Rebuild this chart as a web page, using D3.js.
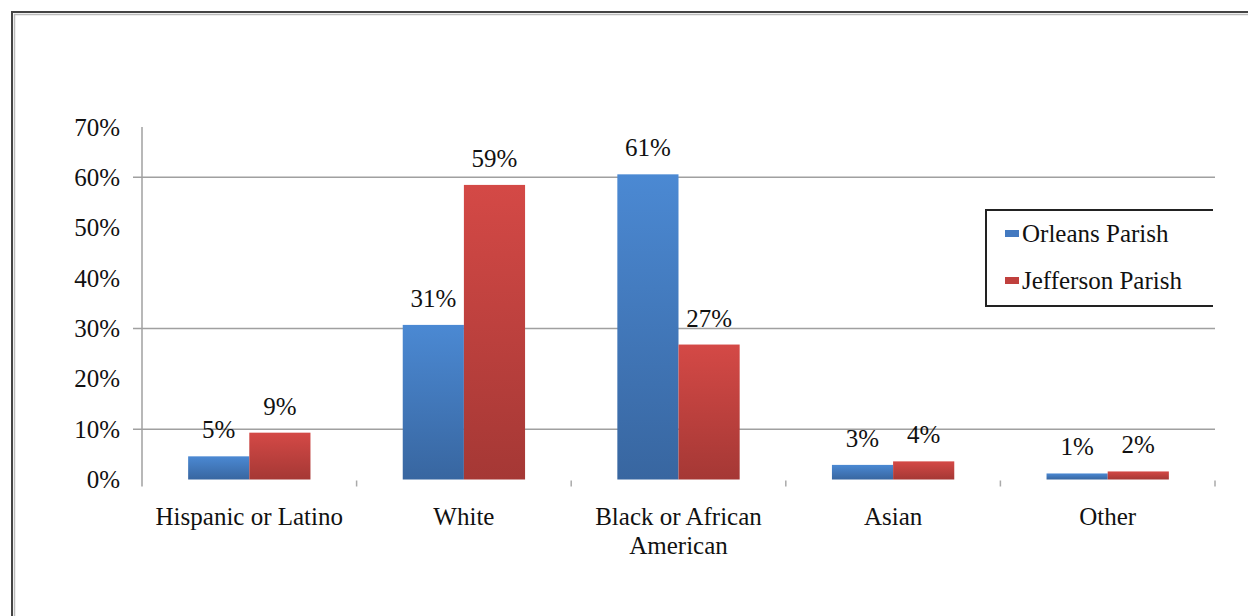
<!DOCTYPE html>
<html>
<head>
<meta charset="utf-8">
<script src="https://cdn.jsdelivr.net/npm/d3@7"></script>
<style>
  body { margin: 0; background: #fff; }
</style>
</head>
<body>
<div id="chart"></div>
<script>
// data
var categories = ["Hispanic or Latino", "White", "Black or African|American", "Asian", "Other"];
var seriesNames = ["Orleans Parish", "Jefferson Parish"];
var orleans = [4.6, 30.7, 60.6, 2.9, 1.2];
var jefferson = [9.3, 58.5, 26.8, 3.6, 1.6];
var orleansLabels = ["5%", "31%", "61%", "3%", "1%"];
var jeffersonLabels = ["9%", "59%", "27%", "4%", "2%"];
var yTicks = [0, 10, 20, 30, 40, 50, 60, 70];
var gridTicks = [10, 30, 60];

var w = 1248, h = 616;
var serif = "'Liberation Serif', 'Times New Roman', serif";

var svg = d3.select("#chart")
    .append("svg")
    .attr("width", w)
    .attr("height", h)
    .attr("font-family", serif)
    .style("font-family", serif);

var defs = svg.append("defs");
function grad(id, top, bottom){
    var g = defs.append("linearGradient")
        .attr("id", id)
        .attr("x1", 0).attr("y1", 0).attr("x2", 0).attr("y2", 1);
    g.append("stop").attr("offset", "0%").attr("stop-color", top);
    g.append("stop").attr("offset", "100%").attr("stop-color", bottom);
}
grad("gBlue", "#4b89d3", "#3866a0");
grad("gRed", "#d44946", "#a53835");
var fills = ["url(#gBlue)", "url(#gRed)"];
var swatch = ["#4379c0", "#c0403d"];

// outer frame
svg.append("rect")
    .attr("x", 12).attr("y", 12)
    .attr("width", 1300).attr("height", 700)
    .attr("fill", "none")
    .attr("stroke", "#444")
    .attr("stroke-width", 2);
svg.append("rect")
    .attr("x", 14.5).attr("y", 14.5)
    .attr("width", 1300).attr("height", 700)
    .attr("fill", "none")
    .attr("stroke", "#bbb")
    .attr("stroke-width", 1.5);

var x0 = 142, x1 = 1215;

var xScale = d3.scaleBand()
    .domain(categories)
    .range([x0, x1])
    .paddingInner(0.43)
    .paddingOuter(0.215);

var xSub = d3.scaleBand()
    .domain(seriesNames)
    .range([0, xScale.bandwidth()]);

var yScale = d3.scaleLinear()
    .domain([0, 70])
    .range([479.5, 127]);

// gridlines
svg.selectAll("grid")
    .data(gridTicks)
    .enter()
    .append("line")
    .attr("x1", x0 - 9)
    .attr("x2", x1)
    .attr("y1", function(d){ return yScale(d); })
    .attr("y2", function(d){ return yScale(d); })
    .attr("stroke", "#a0a0a0")
    .attr("stroke-width", 1.5);

// y axis line
svg.append("line")
    .attr("x1", x0).attr("x2", x0)
    .attr("y1", yScale(70)).attr("y2", yScale(0) + 7)
    .attr("stroke", "#a0a0a0")
    .attr("stroke-width", 1.5);

// category ticks (right edge of each band step)
var step = xScale.step();
svg.selectAll("xtick")
    .data(categories)
    .enter()
    .append("line")
    .attr("x1", function(d){ return xScale(d) - step * xScale.paddingOuter() + step; })
    .attr("x2", function(d){ return xScale(d) - step * xScale.paddingOuter() + step; })
    .attr("y1", yScale(0) + 1)
    .attr("y2", yScale(0) + 7)
    .attr("stroke", "#aaa")
    .attr("stroke-width", 1.5);

// y tick labels
svg.selectAll("ylab")
    .data(yTicks)
    .enter()
    .append("text")
    .attr("x", 120)
    .attr("y", function(d){ return yScale(d) + 8.5; })
    .attr("fill", "#111")
    .style("text-anchor", "end")
    .style("font-size", "25px")
    .text(function(d){ return d + "%"; });

// bars
var series = [orleans, jefferson];
var labels = [orleansLabels, jeffersonLabels];
series.forEach(function(vals, s){
    svg.selectAll("bar" + s)
        .data(vals)
        .enter()
        .append("rect")
        .attr("x", function(d, i){ return xScale(categories[i]) + xSub(seriesNames[s]); })
        .attr("y", function(d){ return yScale(d); })
        .attr("width", xSub.bandwidth())
        .attr("height", function(d){ return yScale(0) - yScale(d); })
        .attr("fill", fills[s]);

    svg.selectAll("blab" + s)
        .data(vals)
        .enter()
        .append("text")
        .attr("x", function(d, i){ return xScale(categories[i]) + xSub(seriesNames[s]) + xSub.bandwidth() / 2; })
        .attr("y", function(d){ return yScale(d) - 18; })
        .attr("fill", "#111")
        .style("text-anchor", "middle")
        .style("font-size", "25px")
        .text(function(d, i){ return labels[s][i]; });
});

// category labels
var catText = svg.selectAll("cat")
    .data(categories)
    .enter()
    .append("text")
    .attr("x", function(d){ return xScale(d) + xScale.bandwidth() / 2; })
    .attr("y", 525)
    .attr("fill", "#111")
    .style("text-anchor", "middle")
    .style("font-size", "25px");
catText.each(function(d){
    var lines = d.split("|");
    var t = d3.select(this);
    var cx = t.attr("x");
    lines.forEach(function(l, i){
        t.append("tspan")
            .attr("x", cx)
            .attr("dy", i == 0 ? 0 : 29)
            .text(l);
    });
});

// legend
svg.append("path")
    .attr("d", "M1213,210 H986 V306 H1213")
    .attr("fill", "none")
    .attr("stroke", "#222")
    .attr("stroke-width", 2);

var legend = svg.selectAll("legend")
    .data(seriesNames)
    .enter()
    .append("g")
    .attr("transform", function(d, i){ return "translate(1005," + (230 + i * 47) + ")"; });
legend.append("rect")
    .attr("width", 14)
    .attr("height", 7)
    .attr("fill", function(d, i){ return swatch[i]; });
legend.append("text")
    .attr("x", 17)
    .attr("y", 12)
    .attr("fill", "#111")
    .style("font-size", "25px")
    .text(function(d){ return d; });
</script>
</body>
</html>
